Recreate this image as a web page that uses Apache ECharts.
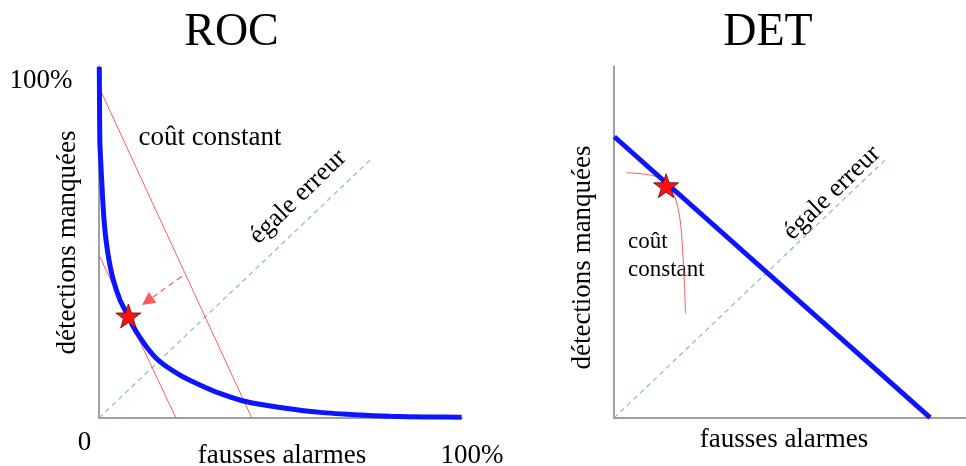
<!DOCTYPE html>
<html>
<head>
<meta charset="utf-8">
<script src="https://cdn.jsdelivr.net/npm/echarts/dist/echarts.min.js"></script>
<style>
html,body{margin:0;padding:0;background:#fff;}
#chart{width:966px;height:466px;}
</style>
</head>
<body>
<div id="chart"></div>
<script>
// ---------- data (axis units: 0..100 %) ----------
const panelTitles = ['ROC', 'DET'];
const axisXLabel = 'fausses alarmes';
const axisYLabel = 'détections manquées';
const rocTickLabels = ['0', '100%', '100%'];
const costLabel = 'coût constant';
const equalLabel = 'égale erreur';

// ROC panel
const rocCurve = [
  [0.08, 99.8], [0.14, 90.3], [0.22, 79.0], [0.45, 73.3], [0.74, 67.6],
  [1.0, 62.5], [1.38, 56.3], [1.93, 50.6], [2.75, 44.9], [3.94, 39.2],
  [5.79, 33.5], [7.63, 29.8], [9.45, 25.9], [13.1, 20.2], [16.8, 16.0],
  [22.3, 12.2], [27.8, 9.4], [33.3, 7.0], [40.7, 4.6], [49.9, 3.0],
  [60.9, 1.6], [71.9, 0.85], [80.2, 0.5], [90.4, 0.3], [99.9, 0.2]
];
const rocCostHigh = [[0, 94], [42.1, 0]];
const rocCostLow = [[0, 46.3], [21.2, 0]];
const rocShift = [[22.8, 40.2], [13.3, 33.2]];
const rocEqual = [[0, 0], [74.7, 73.3]];
const rocOptimum = [[8.1, 29.0]];

// DET panel
const detCurve = [[0.1, 79.9], [89.8, 0.1]];
const detCost = [
  [3.6, 69.7], [9.9, 69.1], [13.1, 68.1], [15.4, 66.2], [17.3, 62.9],
  [18.75, 56.5], [19.5, 47.7], [20.0, 38.3], [20.3, 29.7]
];
const detEqual = [[0, 0], [77.0, 73.3]];
const detOptimum = [[14.8, 66.0]];

// ---------- styles ----------
const SERIF = "'Liberation Serif', 'DejaVu Serif', serif";
const BLUE = '#0d14ff';
const RED = '#ff5c5c';
const GREEN = '#86c2a6';
const AXIS = '#808080';
const STAR = 'path://M50 0 L61.76 33.82 L97.55 34.55 L69.02 56.18 L79.39 90.45 L50 70 L20.61 90.45 L30.98 56.18 L2.45 34.55 L38.24 33.82 Z';

function axisX(idx) {
  return {
    type: 'value', gridIndex: idx, min: 0, max: 100,
    axisLine: { show: true, onZero: false, lineStyle: { color: AXIS, width: 1.5 } },
    axisTick: { show: false }, axisLabel: { show: false }, splitLine: { show: false }
  };
}
function axisY(idx) {
  return {
    type: 'value', gridIndex: idx, min: 0, max: 100,
    axisLine: { show: true, onZero: false, lineStyle: { color: AXIS, width: 1.5 } },
    axisTick: { show: false }, axisLabel: { show: false }, splitLine: { show: false }
  };
}
function lineSeries(idx, data, color, width, type, smooth, z) {
  return {
    type: 'line', xAxisIndex: idx, yAxisIndex: idx, data: data,
    showSymbol: false, symbol: 'none', smooth: smooth || false,
    lineStyle: { color: color, width: width, type: type || 'solid' },
    silent: true, z: z || 2
  };
}
function starSeries(idx, data) {
  return {
    type: 'scatter', xAxisIndex: idx, yAxisIndex: idx, data: data,
    symbol: STAR, symbolSize: [25, 24],
    itemStyle: { color: '#ff1010', borderColor: '#551111', borderWidth: 0.8, opacity: 1 },
    z: 10, silent: true
  };
}
function txt(x, y, text, size, opts) {
  opts = opts || {};
  return {
    type: 'text', x: x, y: y, rotation: opts.rotation || 0, silent: true,
    style: {
      text: text, font: size + 'px ' + SERIF, fill: '#000',
      textAlign: opts.align || 'center', textVerticalAlign: 'middle'
    }
  };
}

const chart = echarts.init(document.getElementById('chart'), null, { renderer: 'canvas' });
chart.setOption({
  animation: false,
  backgroundColor: '#fff',
  grid: [
    { left: 99, top: 66, width: 363, height: 352 },
    { left: 614, top: 66, width: 352, height: 352 }
  ],
  xAxis: [axisX(0), axisX(1)],
  yAxis: [axisY(0), axisY(1)],
  series: [
    lineSeries(0, rocEqual, GREEN, 1.2, [5, 4]),
    lineSeries(0, rocCostHigh, RED, 1),
    lineSeries(0, rocCostLow, RED, 1),
    lineSeries(0, rocCurve, BLUE, 5, 'solid', 0.25, 4),
    {
      type: 'lines', coordinateSystem: 'cartesian2d', xAxisIndex: 0, yAxisIndex: 0,
      data: [{ coords: rocShift }],
      symbol: ['none', 'triangle'], symbolSize: 13,
      lineStyle: { color: RED, width: 1.2, type: [6, 4], opacity: 1 },
      itemStyle: { color: '#ff1010' },
      silent: true, z: 5
    },
    starSeries(0, rocOptimum),

    lineSeries(1, detEqual, GREEN, 1.2, [5, 4]),
    lineSeries(1, detCost, RED, 1, 'solid', 0.3),
    lineSeries(1, detCurve, BLUE, 5, 'solid', false, 4),
    starSeries(1, detOptimum)
  ],
  graphic: [
    txt(231.5, 33, panelTitles[0], 46),
    txt(768, 33, panelTitles[1], 46),
    txt(41, 81, rocTickLabels[1], 27),
    txt(84.5, 443, rocTickLabels[0], 27),
    txt(472, 456, rocTickLabels[2], 27),
    txt(282, 456, axisXLabel, 27),
    txt(784, 440, axisXLabel, 27),
    txt(67.5, 242.5, axisYLabel, 27, { rotation: Math.PI / 2 }),
    txt(582.5, 257.5, axisYLabel, 27, { rotation: Math.PI / 2 }),
    txt(210, 138, costLabel, 27),
    txt(628, 242, costLabel.split(' ')[0], 23, { align: 'left' }),
    txt(628, 270, costLabel.split(' ')[1], 23, { align: 'left' }),
    txt(298, 197, equalLabel, 26, { rotation: Math.PI * 44 / 180 }),
    txt(832, 193, equalLabel, 26, { rotation: Math.PI * 44 / 180 })
  ]
});
</script>
</body>
</html>
